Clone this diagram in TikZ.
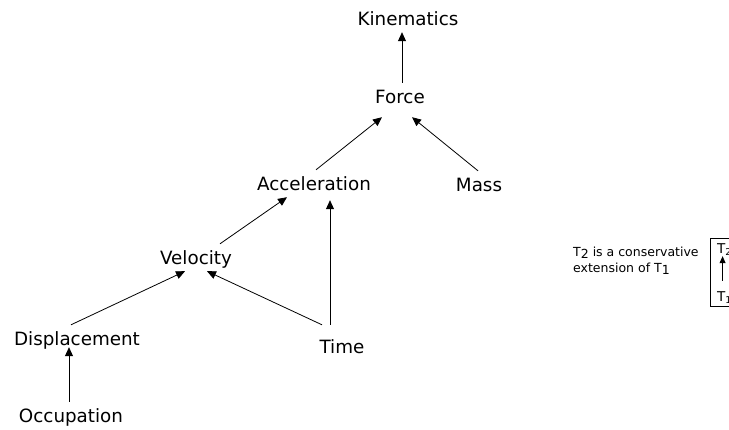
\documentclass[tikz,border=0pt]{standalone}
\usepackage{fontspec}
\setmainfont{DejaVu Sans}
\usetikzlibrary{arrows.meta}

\begin{document}
\begin{tikzpicture}[x=1pt,y=-1pt,
  concept/.style={anchor=base,inner xsep=0pt,inner ysep=7pt,text height=13pt,text depth=0pt,font=\fontsize{18.3}{22}\selectfont},
  link/.style={-{Triangle[length=9pt,width=8pt]},line width=0.8pt},
  small/.style={font=\fontsize{12.5}{16}\selectfont},
  theory/.style={anchor=base west,inner ysep=3pt,inner xsep=0pt,text height=10pt,text depth=0pt,font=\fontsize{13.5}{16}\selectfont},
  smalllink/.style={-{Triangle[length=7pt,width=6pt]},line width=0.8pt}]
  \useasboundingbox (0,0) rectangle (729,429);
  \clip (0,0) rectangle (729,429);
  % concepts
  \node[concept] (kin) at (408,25) {Kinematics};
  \node[concept] (force) at (400,103) {Force};
  \node[concept] (acc) at (314,190) {Acceleration};
  \node[concept] (mass) at (479,191) {Mass};
  \node[concept] (vel) at (196,264) {Velocity};
  \node[concept] (disp) at (77,345) {Displacement};
  \node[concept] (time) at (342,353) {Time};
  \node[concept] (occ) at (71,422) {Occupation};
  % links
  \draw[link] ([xshift=2pt]force.north) -- ([xshift=-6pt]kin.south);
  \draw[link] ([xshift=2pt]acc.north) -- ([xshift=-18pt,yshift=-7pt]force.south);
  \draw[link] ([xshift=-1pt]mass.north) -- ([xshift=12pt,yshift=-7pt]force.south);
  \draw[link] ([xshift=24pt]vel.north) -- ([xshift=-27pt]acc.south);
  \draw[link] ([xshift=-12pt,yshift=8pt]time.north) -- ([xshift=16pt,yshift=-3pt]acc.south);
  \draw[link] ([xshift=-20pt,yshift=8pt]time.north) -- ([xshift=11pt]vel.south);
  \draw[link] ([xshift=-6pt]disp.north) -- ([xshift=-11pt]vel.south);
  \draw[link] ([xshift=-2pt]occ.north) -- ([xshift=-8pt,yshift=5pt]disp.south);
  % legend
  \node[small,align=left,anchor=base west,inner sep=0pt] (note) at (573,272)
    {T\raisebox{-2pt}{2} is a conservative\\extension of T\raisebox{-2pt}{1}};
  \draw (710,238) rectangle (745,306);
  \node[theory] (t2) at (717,253) {T\textsubscript{2}};
  \node[theory] (t1) at (717,301) {T\textsubscript{1}};
  \draw[smalllink] ([xshift=-2pt,yshift=7pt]t1.north) -- ([xshift=-2pt]t2.south);
\end{tikzpicture}
\end{document}
